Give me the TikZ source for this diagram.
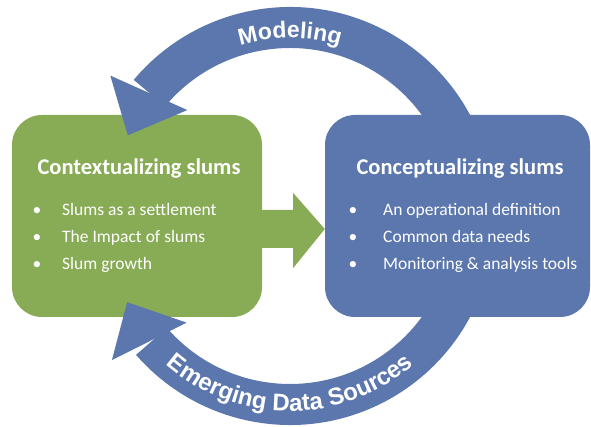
\documentclass[tikz,border=0pt]{standalone}
\usepackage{fontspec}
\setmainfont{Carlito}
\newfontfamily\arcfont{Liberation Sans}
\usetikzlibrary{calc,decorations.text}
\definecolor{ctxgreen}{RGB}{136,171,86}
\definecolor{cptblue}{RGB}{91,119,173}

\begin{document}
\begin{tikzpicture}[x=1pt,y=1pt]
\tikzstyle{every node}+=[inner sep=0pt]
\tikzstyle{slumbox}=[rounded corners=30pt, minimum height=202pt]
\tikzstyle{boxtitle}=[text=white, font=\bfseries\fontsize{22.5}{26}\selectfont]
\tikzstyle{dot}=[text=white, font=\fontsize{17.5}{21}\selectfont, anchor=base]
\tikzstyle{item}=[text=white, font=\fontsize{17.5}{21}\selectfont, anchor=base west]
\useasboundingbox (0,0) rectangle (591,427);
% centres of the two loop arcs
\coordinate (topc) at (290,216);
\coordinate (botc) at (290,206);
% arc bodies (behind the boxes)
\fill [cptblue] ($(topc)+(10:204)$) arc (10:140:204) -- ($(topc)+(140:163)$) arc (140:10:163) -- cycle;
\fill [cptblue] ($(botc)+(-10:204)$) arc (-10:-139:204) -- ($(botc)+(-139:163)$) arc (-139:-10:163) -- cycle;
% the two boxes
\node [slumbox, fill=ctxgreen, minimum width=250pt] (ctx) at (137,211) {};
\node [slumbox, fill=cptblue, minimum width=265pt] (cpt) at (457.5,211) {};
\node [boxtitle] (ctxtitle) at (139,258) {Contextualizing slums};
\node [boxtitle] (cpttitle) at (460,258) {Conceptualizing slums};
\node [dot] (ctxd1) at (37,211) {\textbullet};
\node [item] (ctxi1) at (62,211) {Slums as a settlement};
\node [dot] (ctxd2) at (37,184) {\textbullet};
\node [item] (ctxi2) at (62,184) {The Impact of slums};
\node [dot] (ctxd3) at (37,157) {\textbullet};
\node [item] (ctxi3) at (62,157) {Slum growth};
\node [dot] (cptd1) at (353,211) {\textbullet};
\node [item] (cpti1) at (383,211) {An operational definition};
\node [dot] (cptd2) at (353,184) {\textbullet};
\node [item] (cpti2) at (383,184) {Common data needs};
\node [dot] (cptd3) at (353,157) {\textbullet};
\node [item] (cpti3) at (383,157) {Monitoring \& analysis tools};
% green arrow between the boxes
\fill [ctxgreen] ($(ctx.east)+(-3,6)$) -- ++(34,0) -- ++(0,17) -- ($(cpt.west)+(0,-13)$)
  -- ($(ctx.east)+(31,-52)$) -- ++(0,20) -- ++(-34,0) -- cycle;
% arrow heads on top of the boxes
\fill [cptblue] ($(topc)+(143:225)$) -- ($(topc)+(155:179)$) -- ($(topc)+(135.5:144)$) -- cycle;
\fill [cptblue] ($(botc)+(-142:226)$) -- ($(botc)+(-153.5:182)$) -- ($(botc)+(-135.5:145)$) -- cycle;
% arc labels
\path [decorate, decoration={text along path, text align=center, text color=white,
  text={|\arcfont\bfseries\fontsize{23}{27}\selectfont|Modeling}}]
  ($(topc)+(130:173)$) arc (130:50:173);
\path [decorate, decoration={text along path, text align=center, text color=white,
  text={|\arcfont\bfseries\fontsize{24}{28}\selectfont|Emerging Data Sources}}]
  ($(botc)+(-150:190)$) arc (-150:-30:190);
\end{tikzpicture}
\end{document}
